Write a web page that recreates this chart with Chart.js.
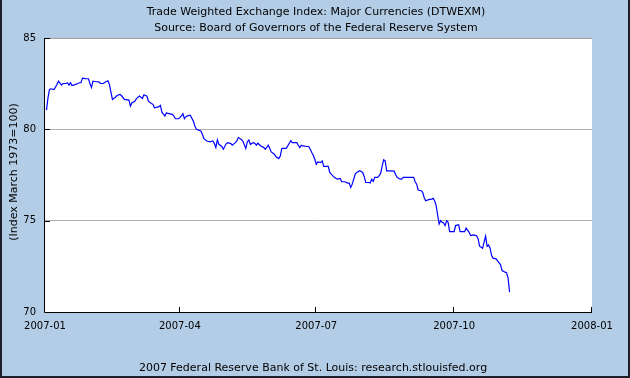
<!DOCTYPE html>
<html lang="en">
<head>
    <meta charset="UTF-8">
    <title>Trade Weighted Exchange Index: Major Currencies (DTWEXM)</title>
    <style>
        html, body { margin: 0; padding: 0; background: #B4CDE6; }
        canvas { display: block; }
    </style>
</head>
<body>
    <canvas id="myChart" width="630" height="378"></canvas>

    <script src="https://cdn.jsdelivr.net/npm/chart.js"></script>

    <script>
        // values
        const dates = [
            '2007-01-02','2007-01-03','2007-01-04','2007-01-05','2007-01-07','2007-01-09','2007-01-10','2007-01-12','2007-01-13','2007-01-15',
            '2007-01-16','2007-01-17','2007-01-18','2007-01-19','2007-01-21','2007-01-23','2007-01-24','2007-01-25','2007-01-26','2007-01-28',
            '2007-01-30','2007-01-31','2007-02-01','2007-02-02','2007-02-03','2007-02-06','2007-02-07','2007-02-09','2007-02-10','2007-02-12',
            '2007-02-13','2007-02-14','2007-02-15','2007-02-17','2007-02-18','2007-02-20','2007-02-21','2007-02-23','2007-02-26','2007-02-27',
            '2007-02-28','2007-03-02','2007-03-03','2007-03-05','2007-03-07','2007-03-08','2007-03-10','2007-03-11','2007-03-13','2007-03-14',
            '2007-03-15','2007-03-17','2007-03-18','2007-03-19','2007-03-20','2007-03-22','2007-03-23','2007-03-24','2007-03-27','2007-03-28',
            '2007-03-29','2007-03-31','2007-04-01','2007-04-02','2007-04-03','2007-04-04','2007-04-05','2007-04-07','2007-04-08','2007-04-10',
            '2007-04-11','2007-04-12','2007-04-15','2007-04-16','2007-04-17','2007-04-19','2007-04-21','2007-04-23','2007-04-24','2007-04-25',
            '2007-04-26','2007-04-27','2007-04-29','2007-04-30','2007-05-02','2007-05-03','2007-05-05','2007-05-06','2007-05-08','2007-05-09',
            '2007-05-10','2007-05-12','2007-05-13','2007-05-15','2007-05-16','2007-05-17','2007-05-18','2007-05-20','2007-05-21','2007-05-22',
            '2007-05-23','2007-05-25','2007-05-27','2007-05-28','2007-05-30','2007-06-01','2007-06-03','2007-06-04','2007-06-06','2007-06-07',
            '2007-06-08','2007-06-09','2007-06-11','2007-06-13','2007-06-14','2007-06-15','2007-06-18','2007-06-19','2007-06-20','2007-06-21',
            '2007-06-22','2007-06-25','2007-06-26','2007-06-27','2007-06-28','2007-06-29','2007-06-30','2007-07-01','2007-07-02','2007-07-04',
            '2007-07-05','2007-07-06','2007-07-08','2007-07-09','2007-07-10','2007-07-11','2007-07-13','2007-07-15','2007-07-17','2007-07-18',
            '2007-07-20','2007-07-22','2007-07-23','2007-07-24','2007-07-25','2007-07-26','2007-07-27','2007-07-28','2007-07-30','2007-08-01',
            '2007-08-02','2007-08-03','2007-08-05','2007-08-06','2007-08-07','2007-08-08','2007-08-09','2007-08-11','2007-08-12','2007-08-13',
            '2007-08-14','2007-08-15','2007-08-16','2007-08-17','2007-08-19','2007-08-22','2007-08-23','2007-08-24','2007-08-26','2007-08-27',
            '2007-08-28','2007-08-31','2007-09-02','2007-09-04','2007-09-05','2007-09-06','2007-09-07','2007-09-09','2007-09-10','2007-09-11',
            '2007-09-12','2007-09-14','2007-09-16','2007-09-17','2007-09-18','2007-09-19','2007-09-20','2007-09-21','2007-09-22','2007-09-23',
            '2007-09-24','2007-09-25','2007-09-26','2007-09-27','2007-09-28','2007-10-01','2007-10-02','2007-10-04','2007-10-05','2007-10-08',
            '2007-10-09','2007-10-11','2007-10-12','2007-10-14','2007-10-16','2007-10-17','2007-10-18','2007-10-20','2007-10-21','2007-10-22',
            '2007-10-23','2007-10-24','2007-10-25','2007-10-26','2007-10-27','2007-10-29','2007-10-31','2007-11-01','2007-11-02','2007-11-04',
            '2007-11-05','2007-11-06','2007-11-07'
        ];
        const values = [
            81.05, 81.73, 82.18, 82.22, 82.18, 82.45, 82.64, 82.42, 82.51, 82.51,
            82.55, 82.42, 82.55, 82.40, 82.45, 82.51, 82.55, 82.55, 82.80, 82.78,
            82.77, 82.51, 82.29, 82.64, 82.62, 82.60, 82.51, 82.51, 82.58, 82.66,
            82.45, 82.04, 81.64, 81.76, 81.85, 81.91, 81.85, 81.64, 81.60, 81.27,
            81.46, 81.54, 81.68, 81.82, 81.69, 81.89, 81.82, 81.54, 81.42, 81.37,
            81.18, 81.22, 81.24, 81.31, 80.94, 80.73, 80.91, 80.87, 80.82, 80.73,
            80.58, 80.58, 80.64, 80.73, 80.86, 80.58, 80.69, 80.76, 80.76, 80.45,
            80.18, 80.00, 79.91, 79.73, 79.49, 79.36, 79.31, 79.36, 79.22, 79.00,
            79.42, 79.18, 79.06, 78.91, 79.22, 79.27, 79.22, 79.13, 79.27, 79.36,
            79.55, 79.45, 79.36, 78.95, 79.31, 79.42, 79.18, 79.27, 79.24, 79.13,
            79.24, 79.09, 79.00, 78.91, 79.13, 78.76, 78.64, 78.51, 78.40, 78.54,
            78.95, 78.96, 78.96, 79.24, 79.38, 79.27, 79.27, 79.13, 79.00, 79.13,
            79.09, 79.06, 79.06, 78.91, 78.73, 78.58, 78.36, 78.09, 78.22, 78.18,
            78.27, 77.97, 77.97, 77.97, 77.64, 77.55, 77.37, 77.27, 77.31, 77.13,
            77.13, 77.06, 77.06, 76.82, 77.00, 77.27, 77.55, 77.64, 77.73, 77.64,
            77.42, 77.09, 77.09, 77.06, 77.27, 77.15, 77.37, 77.37, 77.46, 77.60,
            78.00, 78.33, 78.27, 77.73, 77.73, 77.71, 77.51, 77.37, 77.27, 77.27,
            77.37, 77.37, 77.37, 77.37, 77.13, 77.00, 76.68, 76.64, 76.55, 76.27,
            76.09, 76.15, 76.18, 76.22, 76.09, 75.82, 75.31, 74.82, 75.00, 74.91,
            74.87, 74.73, 75.00, 74.91, 74.40, 74.40, 74.73, 74.78, 74.40, 74.40,
            74.60, 74.36, 74.18, 74.22, 74.18, 74.00, 73.60, 73.49, 73.82, 74.15,
            73.60, 73.67, 73.49, 73.09, 72.95, 72.91, 72.69, 72.58, 72.27, 72.18,
            72.15, 71.86, 71.09
        ];
        const tickDates = ['2007-01-01', '2007-04-01', '2007-07-01', '2007-10-01', '2008-01-01'];
        const tickLabels = ['2007-01', '2007-04', '2007-07', '2007-10', '2008-01'];
        const yTicks = [70, 75, 80, 85];

        const titleLines = [
            'Trade Weighted Exchange Index: Major Currencies (DTWEXM)',
            'Source: Board of Governors of the Federal Reserve System'
        ];
        const yTitle = '(Index March 1973=100)';
        const footer = '2007 Federal Reserve Bank of St. Louis: research.stlouisfed.org';

        const FONT = '"DejaVu Sans", Verdana, sans-serif';

        // days since 2007-01-01
        function dayOf(s) {
            const p = s.split('-').map(Number);
            return (Date.UTC(p[0], p[1] - 1, p[2]) - Date.UTC(2007, 0, 1)) / 86400000;
        }

        const points = dates.map((d, i) => ({ x: dayOf(d), y: values[i] }));

        // background, plot frame, inward ticks and the text around the plot
        const framePlugin = {
            id: 'frame',
            beforeDraw(chart) {
                const c = chart.ctx, a = chart.chartArea;
                c.save();
                c.fillStyle = '#B4CDE6';
                c.fillRect(0, 0, chart.width, chart.height);
                c.fillStyle = '#FFFFFF';
                c.fillRect(a.left, a.top, a.right - a.left, a.bottom - a.top);
                c.restore();
            },
            afterDraw(chart) {
                const c = chart.ctx, a = chart.chartArea;
                const xs = chart.scales.x, ys = chart.scales.y;
                c.save();
                c.lineWidth = 1;

                c.strokeStyle = '#A0A0A0';
                c.beginPath();
                c.moveTo(a.left, a.top + 0.5);
                c.lineTo(a.right, a.top + 0.5);
                c.stroke();

                c.strokeStyle = '#000000';
                c.beginPath();
                c.moveTo(a.left - 0.5, a.top);
                c.lineTo(a.left - 0.5, a.bottom + 0.5);
                c.lineTo(a.right, a.bottom + 0.5);
                c.stroke();

                c.beginPath();
                yTicks.slice(1).forEach(v => {
                    const y = Math.round(ys.getPixelForValue(v)) + 0.5;
                    c.moveTo(a.left, y);
                    c.lineTo(a.left + 5, y);
                });
                tickDates.forEach(d => {
                    const x = Math.round(xs.getPixelForValue(dayOf(d))) - 0.5;
                    c.moveTo(x, a.bottom);
                    c.lineTo(x, a.bottom - 5);
                });
                c.stroke();

                // outer border
                c.fillStyle = '#1E1E28';
                c.fillRect(0, 0, 2, chart.height);
                c.fillRect(chart.width - 2, 0, 2, chart.height);
                c.fillRect(0, chart.height - 2, chart.width, 2);

                c.fillStyle = '#000000';
                c.font = '11px ' + FONT;
                c.textAlign = 'center';
                c.textBaseline = 'middle';
                c.fillText(titleLines[0], 316, 12);
                c.fillText(titleLines[1], 316, 28);
                c.fillText(footer, 313, 368);

                c.translate(14, 172);
                c.rotate(-Math.PI / 2);
                c.fillText(yTitle, 0, 0);
                c.restore();
            }
        };

        const ctx = document.getElementById('myChart');

        new Chart(ctx, {
            type: 'line',
            data: {
                datasets: [{
                    data: points,
                    borderColor: '#0000FF',
                    borderWidth: 1.2,
                    pointRadius: 0,
                    tension: 0,
                    fill: false
                }]
            },
            options: {
                responsive: false,
                animation: false,
                devicePixelRatio: 1,
                layout: { padding: { top: 38, right: 38, left: 0, bottom: 0 } },
                plugins: {
                    legend: { display: false },
                    tooltip: { enabled: false }
                },
                scales: {
                    x: {
                        type: 'linear',
                        min: 0,
                        max: 365,
                        afterBuildTicks: s => { s.ticks = tickDates.map(d => ({ value: dayOf(d) })); },
                        afterFit: s => { s.height = 66; },
                        ticks: {
                            autoSkip: false,
                            maxRotation: 0,
                            padding: 8,
                            color: '#000000',
                            font: { family: FONT, size: 10 },
                            callback: (v, i) => tickLabels[i]
                        },
                        grid: { display: false, drawTicks: false },
                        border: { display: false }
                    },
                    y: {
                        min: 70,
                        max: 85,
                        afterBuildTicks: s => { s.ticks = yTicks.map(v => ({ value: v })); },
                        afterFit: s => { s.width = 45; },
                        ticks: {
                            padding: 9,
                            color: '#000000',
                            font: { family: FONT, size: 10 }
                        },
                        grid: {
                            drawTicks: false,
                            color: c => (c.tick && (c.tick.value === 75 || c.tick.value === 80)) ? '#B0B0B0' : 'rgba(0,0,0,0)'
                        },
                        border: { display: false }
                    }
                }
            },
            plugins: [framePlugin]
        });
    </script>
</body>
</html>
